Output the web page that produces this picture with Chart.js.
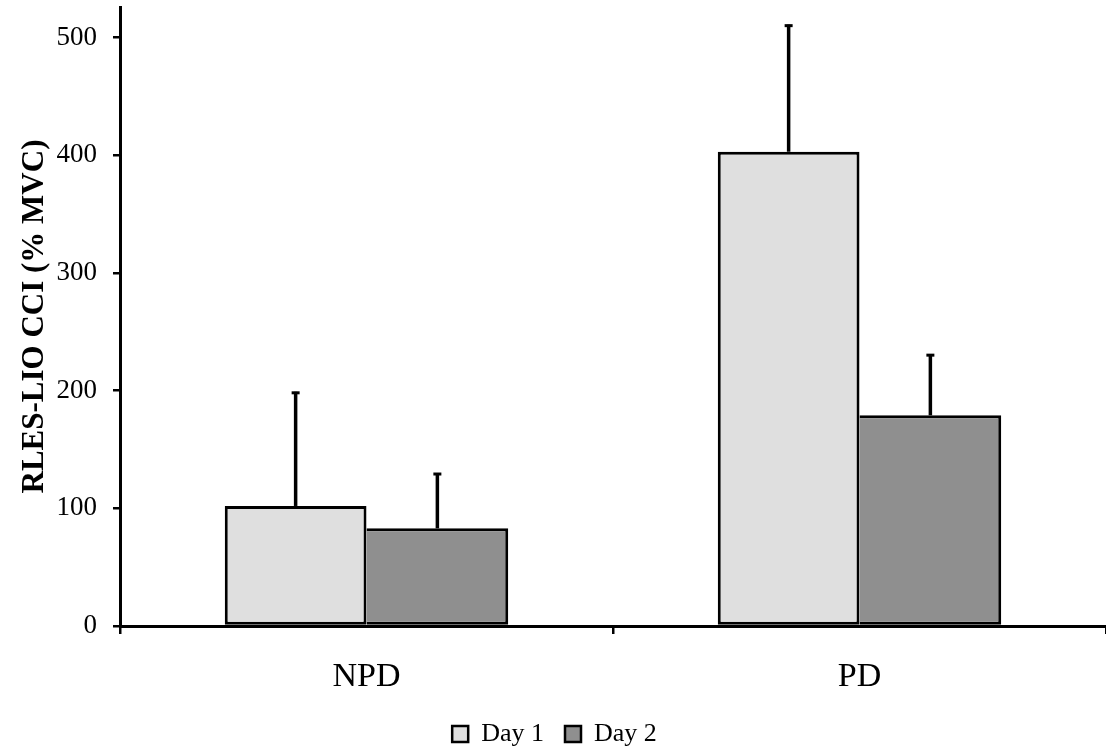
<!DOCTYPE html>
<html>
<head>
<meta charset="utf-8">
<script src="https://cdn.jsdelivr.net/npm/chart.js@4/dist/chart.umd.min.js"></script>
<style>
  html, body { margin: 0; padding: 0; background: #fff; }
  #wrap { width: 1106px; height: 754px; position: relative; }
</style>
</head>
<body>
<div id="wrap"><canvas id="c"></canvas></div>
<script>
const categories = ['NPD', 'PD'];
const seriesNames = ['Day 1', 'Day 2'];
const day1 = [102, 403];
const day2 = [83, 179];
const day1Err = [97, 108];
const day2Err = [47, 52];
const yTicks = [0, 100, 200, 300, 400, 500];

const FONT = '"Liberation Serif", "Times New Roman", serif';

const errorBars = {
  id: 'errorBars',
  afterDatasetsDraw(chart) {
    const ctx = chart.ctx;
    const y = chart.scales.y;
    chart.data.datasets.forEach((ds, di) => {
      const meta = chart.getDatasetMeta(di);
      meta.data.forEach((bar, i) => {
        const top = y.getPixelForValue(ds.data[i] + ds.errors[i]);
        const base = y.getPixelForValue(ds.data[i]);
        ctx.save();
        ctx.strokeStyle = '#000';
        ctx.lineWidth = 3.5;
        ctx.beginPath();
        ctx.moveTo(bar.x, base);
        ctx.lineTo(bar.x, top);
        ctx.stroke();
        ctx.lineWidth = 3;
        ctx.beginPath();
        ctx.moveTo(bar.x - 4, top + 1);
        ctx.lineTo(bar.x + 4, top + 1);
        ctx.stroke();
        ctx.restore();
      });
    });
  }
};

new Chart(document.getElementById('c'), {
  type: 'bar',
  data: {
    labels: categories,
    datasets: [
      {
        label: seriesNames[0],
        data: day1,
        errors: day1Err,
        backgroundColor: '#dfdfdf',
        borderColor: '#000',
        borderWidth: 3,
        borderSkipped: false,
        barPercentage: 1,
        categoryPercentage: 0.575
      },
      {
        label: seriesNames[1],
        data: day2,
        errors: day2Err,
        backgroundColor: '#8f8f8f',
        borderColor: '#000',
        borderWidth: { top: 3, right: 3, bottom: 3, left: 0 },
        borderSkipped: false,
        barPercentage: 1,
        categoryPercentage: 0.575
      }
    ]
  },
  options: {
    responsive: true,
    maintainAspectRatio: false,
    animation: false,
    layout: { padding: { left: 0, right: -3, top: 7, bottom: 0 } },
    plugins: {
      tooltip: { enabled: false },
      legend: {
        position: 'bottom',
        maxHeight: 54,
        labels: {
          font: { family: FONT, size: 26 },
          color: '#000',
          boxWidth: 16,
          boxHeight: 16,
          padding: 21,
          generateLabels(chart) {
            return chart.data.datasets.map((ds, i) => ({
              text: ds.label,
              fillStyle: ds.backgroundColor,
              strokeStyle: '#000',
              lineWidth: 2.5,
              datasetIndex: i,
              fontColor: '#000'
            }));
          }
        }
      }
    },
    scales: {
      x: {
        offset: true,
        afterFit(scale) {
          scale.height = 74;
        },
        grid: {
          display: true,
          offset: true,
          drawOnChartArea: false,
          drawTicks: true,
          tickLength: 8,
          color: '#000',
          lineWidth: 2.5
        },
        border: { display: true, color: '#000', width: 3 },
        ticks: {
          font: { family: FONT, size: 34 },
          color: '#000',
          padding: 23
        }
      },
      y: {
        min: 0,
        max: 526,
        afterBuildTicks(scale) {
          scale.ticks = yTicks.map(v => ({ value: v }));
        },
        afterFit(scale) {
          scale.width = 120;
          scale.paddingTop = 0;
          scale.paddingBottom = 0;
        },
        grid: {
          display: true,
          drawOnChartArea: false,
          drawTicks: true,
          tickLength: 7,
          color: '#000',
          lineWidth: 2.5
        },
        border: { display: true, color: '#000', width: 3 },
        ticks: {
          font: { family: FONT, size: 27 },
          color: '#000',
          padding: 16
        },
        title: {
          display: true,
          text: 'RLES-LIO CCI (% MVC)',
          font: { family: FONT, size: 31, weight: 'bold' },
          color: '#000',
          padding: { top: 16, bottom: 0 }
        }
      }
    }
  },
  plugins: [errorBars]
});
</script>
</body>
</html>
